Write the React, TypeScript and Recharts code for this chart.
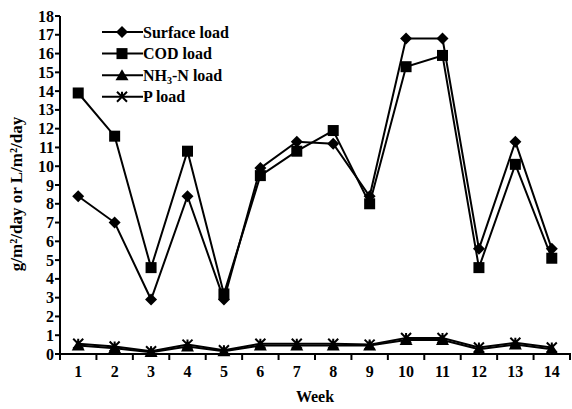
import { LineChart, Line, XAxis, YAxis } from 'recharts';

const weeks = [1, 2, 3, 4, 5, 6, 7, 8, 9, 10, 11, 12, 13, 14];
const surfaceLoad = [8.4, 7.0, 2.9, 8.4, 2.9, 9.9, 11.3, 11.2, 8.4, 16.8, 16.8, 5.6, 11.3, 5.6];
const codLoad = [13.9, 11.6, 4.6, 10.8, 3.2, 9.5, 10.8, 11.9, 8.0, 15.3, 15.9, 4.6, 10.1, 5.1];
const nh3nLoad = [0.45, 0.3, 0.1, 0.4, 0.15, 0.45, 0.45, 0.45, 0.45, 0.75, 0.75, 0.25, 0.5, 0.25];
const pLoad = [0.55, 0.4, 0.15, 0.5, 0.2, 0.55, 0.55, 0.55, 0.5, 0.85, 0.85, 0.35, 0.6, 0.35];
const yTicks = [0, 1, 2, 3, 4, 5, 6, 7, 8, 9, 10, 11, 12, 13, 14, 15, 16, 17, 18];
// labels at week centres, tick marks at the boundaries between weeks
const xTicks = [0.5, ...weeks.flatMap((w) => [w, w + 0.5])];

const data = weeks.map((w, i) => ({
  week: w,
  surface: surfaceLoad[i],
  cod: codLoad[i],
  nh3n: nh3nLoad[i],
  p: pLoad[i],
}));

const FONT = '"Liberation Serif", "DejaVu Serif", "Times New Roman", serif';
const txt = { fontFamily: FONT, fontWeight: 'bold' as const, fontSize: 16, fill: '#000' };

type Kind = 'diamond' | 'square' | 'triangle' | 'cross';

function Marker({ kind, cx, cy }: { kind: Kind; cx: number; cy: number }) {
  if (kind === 'diamond')
    return <path d={`M${cx},${cy - 6}L${cx + 6},${cy}L${cx},${cy + 6}L${cx - 6},${cy}Z`} fill="#000" />;
  if (kind === 'square') return <rect x={cx - 5.5} y={cy - 5.5} width={11} height={11} fill="#000" />;
  if (kind === 'triangle')
    return <path d={`M${cx},${cy - 6}L${cx + 6.5},${cy + 5}L${cx - 6.5},${cy + 5}Z`} fill="#000" />;
  return (
    <path
      d={`M${cx - 5},${cy - 5}L${cx + 5},${cy + 5}M${cx + 5},${cy - 5}L${cx - 5},${cy + 5}M${cx},${cy - 5}L${cx},${cy + 1}`}
      stroke="#000"
      strokeWidth={2}
    />
  );
}

const dotFor = (kind: Kind) => (props: any) =>
  <Marker key={`${kind}-${props.index}`} kind={kind} cx={props.cx} cy={props.cy} />;

const legendItems: { label: React.ReactNode; kind: Kind }[] = [
  { label: 'Surface load', kind: 'diamond' },
  { label: 'COD load', kind: 'square' },
  { label: <>NH<tspan fontSize={10} dy={3}>3</tspan><tspan dy={-3}>-N load</tspan></>, kind: 'triangle' },
  { label: 'P load', kind: 'cross' },
];

function LegendBox() {
  return (
    <svg width={200} height={90} style={{ position: 'absolute', left: 100, top: 22 }}>
      {legendItems.map((it, i) => {
        const y = 10 + i * 21.6;
        return (
          <g key={i}>
            <line x1={2} x2={43} y1={y} y2={y} stroke="#000" strokeWidth={2} />
            <Marker kind={it.kind} cx={22} cy={y} />
            <text x={43} y={y + 5.5} style={txt}>
              {it.label}
            </text>
          </g>
        );
      })}
    </svg>
  );
}

function WeekTick(props: any) {
  const { x, y, payload } = props;
  const v = payload.value;
  if (!Number.isInteger(v)) {
    return <line x1={x} x2={x} y1={y - 1} y2={y + 6} stroke="#000" strokeWidth={2} />;
  }
  return (
    <text x={x} y={y + 23} textAnchor="middle" style={txt}>
      {v}
    </text>
  );
}

function YTick(props: any) {
  const { x, y, payload } = props;
  return (
    <text x={x} y={y + 5.5} textAnchor="end" style={txt}>
      {payload.value}
    </text>
  );
}

function YLabel() {
  return (
    <text x={22} y={194} transform="rotate(-90 22 194)" textAnchor="middle" style={{ ...txt, fontSize: 17 }}>
      g/m²/day or L/m²/day
    </text>
  );
}

export default function App() {
  return (
    <div style={{ position: 'absolute', left: 0, top: 0, width: 572, height: 409, background: '#fff' }}>
      <LineChart width={572} height={409} data={data} margin={{ top: 16, right: 2, left: 0, bottom: 25 }}>
        <XAxis
          dataKey="week"
          type="number"
          domain={[0.5, 14.5]}
          ticks={xTicks}
          interval={0}
          tickLine={false}
          tickSize={0}
          tickMargin={0}
          tick={<WeekTick />}
          axisLine={{ stroke: '#000', strokeWidth: 2 }}
          height={30}
          label={{ value: 'Week', position: 'insideBottom', offset: -18, style: txt }}
        />
        <YAxis
          domain={[0, 18]}
          ticks={yTicks}
          interval={0}
          width={60}
          tickSize={5}
          tickMargin={1}
          tickLine={{ stroke: '#000', strokeWidth: 2 }}
          axisLine={{ stroke: '#000', strokeWidth: 2 }}
          tick={<YTick />}
          label={<YLabel />}
        />
        <Line dataKey="surface" stroke="#000" strokeWidth={2} dot={dotFor('diamond')} isAnimationActive={false} />
        <Line dataKey="cod" stroke="#000" strokeWidth={2} dot={dotFor('square')} isAnimationActive={false} />
        <Line dataKey="nh3n" stroke="#000" strokeWidth={2} dot={dotFor('triangle')} isAnimationActive={false} />
        <Line dataKey="p" stroke="#000" strokeWidth={2} dot={dotFor('cross')} isAnimationActive={false} />
      </LineChart>
      <LegendBox />
    </div>
  );
}
